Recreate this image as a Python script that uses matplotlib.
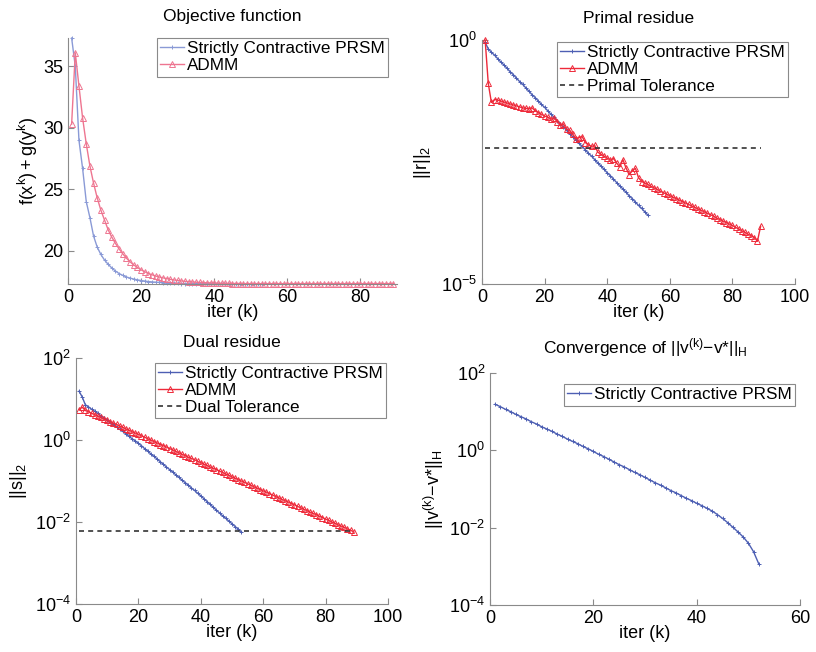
import numpy as np
import matplotlib
matplotlib.use("Agg")
import matplotlib.pyplot as plt

plt.rcParams['font.family'] = ['Liberation Sans', 'DejaVu Sans']
plt.rcParams['mathtext.fontset'] = 'custom'
plt.rcParams['mathtext.rm'] = 'Liberation Sans'
plt.rcParams['mathtext.it'] = 'Liberation Sans:italic'
plt.rcParams['mathtext.default'] = 'regular'

# %% data (iterations start at k = 1)
obj_prsm = [37.3, 35.0, 29.0, 26.7, 24.0, 22.7, 21.2, 20.3, 19.7, 19.25,
            18.9, 18.6, 18.35, 18.15, 18.0, 17.87, 17.78, 17.7, 17.64, 17.58,
            17.54, 17.5, 17.47, 17.45, 17.43, 17.41, 17.39, 17.37, 17.36, 17.35,
            17.34, 17.34, 17.33, 17.33, 17.33, 17.32, 17.32, 17.32, 17.32, 17.32,
            17.32, 17.32, 17.32, 17.32, 17.32, 17.32, 17.32, 17.32, 17.32, 17.32,
            17.32, 17.32, 17.32]
obj_admm = [30.3, 36.1, 33.4, 30.8, 28.7, 26.9, 25.5, 24.3, 23.3, 22.5,
            21.7, 21.1, 20.6, 20.15, 19.75, 19.4, 19.1, 18.85, 18.65, 18.45,
            18.3, 18.15, 18.05, 17.95, 17.87, 17.8, 17.74, 17.68, 17.63, 17.59,
            17.55, 17.52, 17.49, 17.47, 17.45, 17.43, 17.41, 17.4, 17.39, 17.38,
            17.37, 17.36, 17.35, 17.35, 17.34, 17.34, 17.34, 17.33, 17.33, 17.33,
            17.33, 17.33, 17.33, 17.33, 17.33, 17.33, 17.33, 17.33, 17.33, 17.33,
            17.33, 17.33, 17.33, 17.33, 17.33, 17.33, 17.33, 17.33, 17.33, 17.33,
            17.33, 17.33, 17.33, 17.33, 17.33, 17.33, 17.33, 17.33, 17.33, 17.33,
            17.33, 17.33, 17.33, 17.33, 17.33, 17.33, 17.33, 17.33, 17.33]

# residues given as log10 of the value
primal_prsm_log = [-0.05, -0.18, -0.25, -0.31, -0.38, -0.45, -0.51, -0.58, -0.65, -0.71,
                   -0.78, -0.85, -0.91, -0.98, -1.05, -1.12, -1.18, -1.25, -1.32, -1.38,
                   -1.45, -1.52, -1.58, -1.65, -1.72, -1.78, -1.85, -1.92, -1.98, -2.05,
                   -2.12, -2.18, -2.25, -2.32, -2.38, -2.45, -2.52, -2.58, -2.65, -2.72,
                   -2.78, -2.85, -2.92, -2.99, -3.05, -3.12, -3.19, -3.25, -3.32, -3.39,
                   -3.45, -3.52, -3.59]
primal_admm_log = [0.00, -0.89, -1.28, -1.22, -1.23, -1.25, -1.27, -1.29, -1.31, -1.33,
                   -1.35, -1.37, -1.39, -1.40, -1.41, -1.39, -1.45, -1.49, -1.52, -1.56,
                   -1.58, -1.62, -1.60, -1.67, -1.74, -1.72, -1.83, -1.85, -1.93, -2.02,
                   -2.00, -1.98, -2.10, -2.15, -2.18, -2.16, -2.30, -2.34, -2.38, -2.42,
                   -2.46, -2.43, -2.52, -2.60, -2.45, -2.62, -2.76, -2.68, -2.63, -2.82,
                   -2.90, -2.93, -2.96, -3.00, -3.03, -3.06, -3.10, -3.13, -3.16, -3.19,
                   -3.22, -3.25, -3.28, -3.31, -3.34, -3.37, -3.40, -3.43, -3.46, -3.49,
                   -3.52, -3.55, -3.58, -3.61, -3.65, -3.68, -3.71, -3.74, -3.77, -3.80,
                   -3.84, -3.87, -3.91, -3.94, -3.98, -4.01, -4.05, -4.12, -3.82]
primal_tol_log = -2.21

dual_prsm_log = [1.19, 1.05, 0.86, 0.81, 0.75, 0.70, 0.65, 0.59, 0.54, 0.49,
                 0.43, 0.38, 0.32, 0.26, 0.21, 0.15, 0.09, 0.03, -0.02, -0.08,
                 -0.14, -0.21, -0.27, -0.34, -0.40, -0.46, -0.53, -0.59, -0.66, -0.72,
                 -0.78, -0.85, -0.91, -0.98, -1.04, -1.10, -1.17, -1.23, -1.30, -1.36,
                 -1.43, -1.50, -1.57, -1.64, -1.71, -1.78, -1.85, -1.91, -1.98, -2.04,
                 -2.11, -2.17, -2.24]
dual_admm_log = [0.74, 0.80, 0.72, 0.69, 0.65, 0.62, 0.58, 0.55, 0.51, 0.48,
                 0.44, 0.41, 0.38, 0.34, 0.31, 0.27, 0.24, 0.20, 0.17, 0.14,
                 0.10, 0.07, 0.03, 0.00, -0.04, -0.07, -0.11, -0.14, -0.17, -0.21,
                 -0.24, -0.28, -0.31, -0.35, -0.38, -0.42, -0.45, -0.48, -0.52, -0.55,
                 -0.59, -0.62, -0.66, -0.69, -0.72, -0.76, -0.79, -0.83, -0.86, -0.90,
                 -0.93, -0.97, -1.00, -1.03, -1.07, -1.10, -1.14, -1.17, -1.21, -1.24,
                 -1.27, -1.31, -1.34, -1.38, -1.41, -1.45, -1.48, -1.51, -1.55, -1.58,
                 -1.62, -1.65, -1.69, -1.72, -1.76, -1.79, -1.82, -1.86, -1.89, -1.93,
                 -1.96, -2.00, -2.03, -2.07, -2.10, -2.13, -2.17, -2.20, -2.24]
dual_tol_log = -2.23

conv_prsm_log = [1.19, 1.13, 1.06, 1.00, 0.93, 0.87, 0.81, 0.74, 0.68, 0.61,
                 0.55, 0.49, 0.42, 0.36, 0.29, 0.23, 0.17, 0.10, 0.04, -0.03,
                 -0.10, -0.16, -0.23, -0.30, -0.37, -0.43, -0.50, -0.57, -0.63, -0.70,
                 -0.77, -0.84, -0.90, -0.97, -1.04, -1.10, -1.17, -1.24, -1.30, -1.37,
                 -1.43, -1.50, -1.57, -1.66, -1.76, -1.87, -1.99, -2.11, -2.24, -2.40,
                 -2.62, -2.93]

k_prsm = np.arange(1, len(obj_prsm) + 1)
k_admm = np.arange(1, len(obj_admm) + 1)
k_conv = np.arange(1, len(conv_prsm_log) + 1)

# %% style
blue = '#4d5fb3'
red = '#ee2a3a'
blue_light = '#8a9ad6'
red_light = '#ee7590'
grey = '#8a8a8a'
prsm_style = dict(lw=1.0, marker='+', ms=3, mew=0.7, clip_on=False)
admm_style = dict(lw=1.0, marker='^', ms=3.8, mew=0.7, mfc='none', clip_on=False)

fig = plt.figure(figsize=(8.16, 6.52), dpi=100)
ax_obj = fig.add_axes([0.0833, 0.5644, 0.4032, 0.3773])
ax_pri = fig.add_axes([0.5907, 0.5644, 0.3836, 0.3742])
ax_dua = fig.add_axes([0.0931, 0.0736, 0.3824, 0.3773])
ax_cnv = fig.add_axes([0.6005, 0.0721, 0.3799, 0.3558])


def matlab_look(ax):
    for side in ['top', 'right']:
        ax.spines[side].set_visible(False)
    for side in ['left', 'bottom']:
        ax.spines[side].set_color(grey)
        ax.spines[side].set_linewidth(0.8)
    ax.tick_params(direction='in', length=4, color=grey, labelsize=13, width=0.8)
    ax.tick_params(which='minor', length=0)
    ax.set_xlabel('iter (k)', fontsize=13, labelpad=-1)


def legend(ax, anchor):
    lg = ax.legend(loc='upper right', bbox_to_anchor=anchor, fontsize=12.3,
                   fancybox=False, framealpha=1, edgecolor=grey,
                   handlelength=1.4, handletextpad=0.15, borderpad=0.2,
                   labelspacing=0.1, borderaxespad=0)
    lg.get_frame().set_linewidth(0.8)


# %% objective
ax = ax_obj
ax.plot(k_prsm, obj_prsm, color=blue_light, label='Strictly Contractive PRSM', **prsm_style)
ax.plot(k_admm, obj_admm, color=red_light, label='ADMM', **admm_style)
ax.set_xlim(0, 90)
ax.set_ylim(17.3, 37.3)
ax.set_xticks([0, 20, 40, 60, 80])
ax.set_yticks([20, 25, 30, 35])
ax.set_title('Objective function', fontsize=12.5, pad=12)
ax.set_ylabel(r'$f(x^k) + g(y^k)$', fontsize=13, labelpad=2)
matlab_look(ax)
legend(ax, (0.973, 1.0))

# %% primal residue
ax = ax_pri
ax.semilogy(k_prsm, 10.0 ** np.array(primal_prsm_log), color=blue,
            label='Strictly Contractive PRSM', **prsm_style)
ax.semilogy(k_admm, 10.0 ** np.array(primal_admm_log), color=red,
            label='ADMM', **admm_style)
ax.semilogy(k_admm, [10.0 ** primal_tol_log] * len(k_admm), color='#333333',
            lw=1.2, ls='--', dashes=(3, 2.5), label='Primal Tolerance')
ax.set_xlim(0, 100)
ax.set_ylim(1e-5, 1e0)
ax.set_xticks([0, 20, 40, 60, 80, 100])
ax.set_yticks([1e-5, 1e0])
ax.set_title('Primal residue', fontsize=12.5, pad=12)
ax.set_ylabel(r'$||r||_2$', fontsize=13, labelpad=6)
matlab_look(ax)
legend(ax, (0.978, 0.992))

# %% dual residue
ax = ax_dua
ax.semilogy(k_prsm, 10.0 ** np.array(dual_prsm_log), color=blue,
            label='Strictly Contractive PRSM', **prsm_style)
ax.semilogy(k_admm, 10.0 ** np.array(dual_admm_log), color=red,
            label='ADMM', **admm_style)
ax.semilogy(k_admm, [10.0 ** dual_tol_log] * len(k_admm), color='#333333',
            lw=1.2, ls='--', dashes=(3, 2.5), label='Dual Tolerance')
ax.set_xlim(0, 100)
ax.set_ylim(1e-4, 1e2)
ax.set_xticks([0, 20, 40, 60, 80, 100])
ax.set_yticks([1e-4, 1e-2, 1e0, 1e2])
ax.set_title('Dual residue', fontsize=12.5, pad=8)
ax.set_ylabel(r'$||s||_2$', fontsize=13, labelpad=4)
matlab_look(ax)
legend(ax, (0.994, 0.98))

# %% convergence of ||v - v*||_H
ax = ax_cnv
ax.semilogy(k_conv, 10.0 ** np.array(conv_prsm_log), color=blue,
            label='Strictly Contractive PRSM', **prsm_style)
ax.set_xlim(0, 60)
ax.set_ylim(1e-4, 1e2)
ax.set_xticks([0, 20, 40, 60])
ax.set_yticks([1e-4, 1e-2, 1e0, 1e2])
ax.set_title(r'Convergence of $||v^{(k)}{-}v{*}||_H$', fontsize=12.5, pad=14)
ax.set_ylabel(r'$||v^{(k)}{-}v{*}||_H$', fontsize=13, labelpad=2)
matlab_look(ax)
legend(ax, (0.984, 0.953))

fig.savefig('out.png', dpi=100)
